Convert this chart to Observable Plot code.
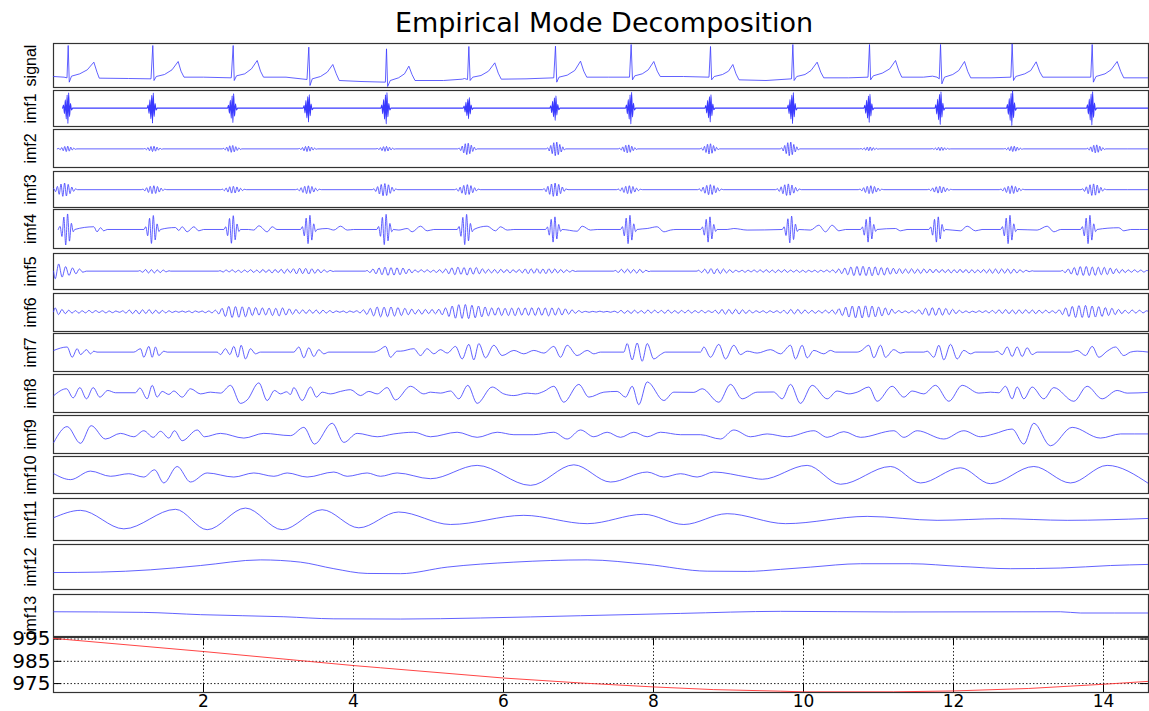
<!DOCTYPE html>
<html><head><meta charset="utf-8">
<script src="https://cdn.jsdelivr.net/npm/d3@7"></script>
<script src="https://cdn.jsdelivr.net/npm/@observablehq/plot@0.6"></script>
<style>
body{margin:0;background:#fff;}
#chart{position:relative;width:1149px;height:711px;overflow:hidden;background:#fff;}
#title{position:absolute;left:53px;width:1102px;top:9px;text-align:center;font-family:"DejaVu Sans",sans-serif;font-size:27px;line-height:27px;color:#000;}
</style></head>
<body><div id="chart"><div id="title">Empirical Mode Decomposition</div></div>
<script>
// ---------------- data ----------------
const xDomain = [0, 14.6];
const xTicks = [2, 4, 6, 8, 10, 12, 14];
const residualTicks = [975, 985, 995];
const panelNames = ["signal","imf1","imf2","imf3","imf4","imf5","imf6","imf7","imf8","imf9","imf10","imf11","imf12","imf13"];

const signal = [[0,0.12],[0.14,0.1],[0.18,0.08],[0.196,1.05],[0.21,-0.05],[0.24,0.13],[0.35,0.2],[0.45,0.32],[0.538,0.55],[0.58,0.25],[0.61,0.07],[1.0,0.06],[1.3,0.05],[1.324,1.05],[1.34,0.0],[1.37,0.12],[1.48,0.18],[1.58,0.32],[1.662,0.57],[1.70,0.28],[1.74,0.1],[2.0,0.1],[2.37,0.08],[2.396,1.05],[2.41,0.0],[2.44,0.14],[2.55,0.2],[2.64,0.35],[2.716,0.6],[2.76,0.28],[2.80,0.1],[3.1,0.1],[3.38,0.03],[3.404,1.0],[3.42,-0.15],[3.45,0.05],[3.56,0.12],[3.65,0.25],[3.724,0.48],[3.77,0.2],[3.81,0.0],[4.1,-0.03],[4.425,-0.05],[4.44,0.95],[4.455,-0.18],[4.49,0.0],[4.6,0.08],[4.68,0.2],[4.738,0.43],[4.78,0.18],[4.82,0.0],[5.2,0.0],[5.45,0.04],[5.48,0.06],[5.52,0.03],[5.538,1.02],[5.555,0.0],[5.59,0.1],[5.7,0.15],[5.8,0.28],[5.884,0.53],[5.93,0.22],[5.97,0.04],[6.3,0.05],[6.67,0.08],[6.693,1.03],[6.71,-0.05],[6.74,0.1],[6.85,0.16],[6.95,0.3],[7.027,0.58],[7.07,0.28],[7.11,0.1],[7.4,0.1],[7.68,0.1],[7.702,1.08],[7.72,0.02],[7.75,0.14],[7.85,0.2],[7.93,0.32],[8.004,0.57],[8.05,0.28],[8.09,0.12],[8.4,0.12],[8.74,0.1],[8.76,1.02],[8.775,0.02],[8.81,0.12],[8.92,0.18],[9.0,0.28],[9.058,0.48],[9.10,0.2],[9.14,0.02],[9.5,0.0],[9.84,0.05],[9.858,1.08],[9.875,0.0],[9.91,0.12],[10.02,0.18],[10.1,0.3],[10.182,0.55],[10.23,0.25],[10.27,0.08],[10.6,0.08],[10.86,0.1],[10.88,1.08],[10.895,0.02],[10.93,0.14],[11.05,0.22],[11.15,0.35],[11.227,0.6],[11.27,0.3],[11.31,0.1],[11.6,0.1],[11.72,0.13],[11.78,0.1],[11.81,0.05],[11.827,1.08],[11.845,-0.1],[11.88,0.1],[11.99,0.18],[12.07,0.3],[12.147,0.57],[12.19,0.27],[12.23,0.08],[12.5,0.08],[12.765,0.1],[12.782,1.1],[12.8,0.0],[12.83,0.12],[12.95,0.2],[13.03,0.3],[13.102,0.56],[13.15,0.26],[13.19,0.1],[13.5,0.1],[13.83,0.1],[13.849,1.08],[13.865,-0.05],[13.9,0.12],[14.02,0.2],[14.1,0.32],[14.182,0.57],[14.23,0.27],[14.27,0.08],[14.6,0.08]];

// bursty modes: burst times, burst amplitudes, burst shape (read from one burst)
const imf1Centers = [0.196,1.324,2.396,3.404,4.44,5.538,6.693,7.702,8.76,9.858,10.88,11.827,12.782,13.849];
const imf1Amps = [0.92,0.9,0.87,0.82,0.94,0.63,0.74,0.95,0.82,0.93,0.85,0.98,1.05,1.0];
const imf1Shape = [[-0.075,0],[-0.062,0.2],[-0.05,-0.35],[-0.038,0.55],[-0.026,-0.7],[-0.014,0.85],[-0.004,-1],[0.006,1],[0.018,-0.55],[0.03,0.3],[0.044,-0.12],[0.06,0]];

const imf2Centers = [0.18,1.33,2.38,3.39,4.43,5.52,6.7,7.66,8.75,9.82,10.88,11.83,12.8,13.9];
const imf2Amps = [0.14,0.14,0.18,0.14,0.13,0.3,0.36,0.21,0.27,0.36,0.1,0.09,0.14,0.21];
const imf2Shape = [[-0.13,0],[-0.11,0.15],[-0.09,-0.3],[-0.07,0.5],[-0.05,-0.7],[-0.03,0.9],[-0.01,-1],[0.01,1],[0.03,-0.85],[0.05,0.65],[0.07,-0.45],[0.09,0.3],[0.11,-0.15],[0.13,0]];

const imf3Centers = [0.15,1.34,2.4,3.4,4.42,5.52,6.69,7.68,8.76,9.8,10.9,11.82,12.78,13.87];
const imf3Amps = [0.37,0.22,0.19,0.22,0.34,0.28,0.37,0.22,0.28,0.32,0.22,0.19,0.22,0.32];
const imf3Shape = [[-0.17,0],[-0.146,0.15],[-0.122,-0.3],[-0.098,0.5],[-0.074,-0.7],[-0.05,0.85],[-0.026,-1],[-0.002,1],[0.022,-0.95],[0.046,0.8],[0.07,-0.6],[0.094,0.4],[0.118,-0.25],[0.142,0.12],[0.17,0]];

const imf4Centers = [0.173,1.316,2.382,3.404,4.42,5.493,6.671,7.671,8.738,9.827,10.871,11.782,12.738,13.804];
const imf4Amps = [0.8,0.72,0.71,0.73,0.78,0.78,0.65,0.73,0.65,0.69,0.65,0.65,0.73,0.73];
const imf4Shape = [[-0.11,0],[-0.085,0.2],[-0.06,-0.45],[-0.035,0.8],[-0.01,-1],[0.015,1],[0.04,-0.75],[0.065,0.4],[0.09,-0.15],[0.11,0]];
const imf4Tails = [[0.538,0.14],[0.58,-0.12],[0.627,0.09],[0.67,-0.07],[0.716,0],[1.627,0.1],[1.67,-0.05],[1.716,0.14],[1.782,-0.12],[1.871,0.14],[1.938,-0.07],[2.0,0],[2.6,0],[2.671,-0.03],[2.738,0.19],[2.849,-0.12],[2.916,0.14],[2.98,0],[3.649,0.05],[3.738,-0.03],[3.827,0.17],[3.916,-0.03],[4.0,0],[4.604,-0.03],[4.716,0.05],[4.782,-0.12],[4.893,0.17],[4.982,-0.07],[5.07,0],[5.782,0.17],[5.893,-0.07],[5.96,0.14],[6.049,-0.03],[6.138,0],[6.982,-0.09],[7.049,0.17],[7.16,-0.03],[7.249,0],[7.916,0.05],[8.049,0.14],[8.138,-0.12],[8.227,-0.03],[8.3,0],[8.982,0],[9.071,0.05],[9.249,-0.03],[10.093,-0.03],[10.204,0.22],[10.293,-0.12],[10.382,0.22],[10.471,-0.07],[10.56,0],[11.227,0.05],[11.293,-0.07],[11.38,0],[12.093,-0.07],[12.182,0.17],[12.293,-0.07],[12.38,0],[13.115,-0.03],[13.249,0.17],[13.338,-0.12],[13.43,0],[14.204,0.09],[14.271,-0.07],[14.36,0]];

// oscillating modes: [start, end, successive extrema values read along the segment]
const imf5Segments = [
 [0.0,0.46,[-0.42,0.4,-0.33,0.25,-0.24,0.18,-0.15,0.12,-0.06,0]],
 [1.13,1.56,[0.03,-0.06,0.09,-0.1,0.08,-0.1,0.07,-0.08,0.06,-0.04,0.02]],
 [2.2,3.75,[0.03,-0.05,0.06,-0.04,0.07,-0.06,0.05,-0.07,0.06,-0.05,0.08,-0.07,0.06,-0.08,0.09,-0.07,0.08,-0.1,0.09,-0.08,0.1,-0.12,0.11,-0.09,0.13,-0.15,0.16,-0.14,0.15,-0.16,0.13,-0.12,0.1,-0.09,0.07,-0.05,0.04,-0.02]],
 [4.16,4.8,[0.04,-0.08,0.12,-0.15,0.18,-0.2,0.22,-0.24,0.2,-0.22,0.19,-0.2,0.17,-0.15,0.12,-0.1]],
 [4.8,5.25,[0.07,-0.06,0.08,-0.05,0.07,-0.06,0.05,-0.07,0.08,-0.09,0.12]],
 [5.25,5.82,[-0.15,0.18,-0.2,0.22,-0.18,0.2,-0.22,0.19,-0.17,0.2,-0.15,0.13,-0.11,0.1]],
 [5.82,6.23,[-0.1,0.09,-0.11,0.1,-0.08,0.09,-0.1,0.08,-0.07,0.09]],
 [6.23,6.98,[-0.1,0.12,-0.14,0.13,-0.12,0.14,-0.13,0.12,-0.14,0.13,-0.11,0.12,-0.1,0.09,-0.08,0.07,-0.05,0.04,-0.02]],
 [7.47,7.96,[0.04,-0.07,0.1,-0.09,0.11,-0.1,0.09,-0.11,0.1,-0.08,0.05,-0.03]],
 [8.58,9.16,[0.05,-0.08,0.11,-0.13,0.14,-0.15,0.13,-0.14,0.12,-0.1,0.08,-0.07,0.05,-0.04]],
 [9.16,10.09,[0.05,-0.06,0.05,-0.04,0.06,-0.05,0.07,-0.06,0.08,-0.07,0.06,-0.08,0.07,-0.06,0.08,-0.07,0.06,-0.05,0.06,-0.07,0.05,-0.06,0.05]],
 [10.09,10.49,[-0.04,0.05,-0.06,0.05,-0.04,0.06,-0.05,0.07,-0.09,0.12]],
 [10.49,11.38,[-0.14,0.17,-0.2,0.23,-0.25,0.26,-0.24,0.27,-0.25,0.23,-0.26,0.24,-0.22,0.2,-0.22,0.19,-0.17,0.16,-0.15,0.14,-0.13,0.12]],
 [11.38,11.91,[-0.12,0.13,-0.12,0.11,-0.13,0.12,-0.1,0.11,-0.09,0.1,-0.08,0.09,-0.08]],
 [11.91,12.54,[0.09,-0.1,0.08,-0.09,0.1,-0.08,0.09,-0.1,0.08,-0.09,0.07,-0.08,0.09,-0.1,0.11,-0.12]],
 [12.54,13.07,[0.12,-0.13,0.12,-0.11,0.12,-0.13,0.11,-0.1,0.08,-0.06,0.05,-0.03,0.02]],
 [13.43,14.31,[0.04,-0.08,0.12,-0.16,0.2,-0.23,0.25,-0.24,0.26,-0.25,0.23,-0.24,0.22,-0.2,0.21,-0.19,0.17,-0.15,0.13,-0.11,0.09,-0.08]],
 [14.31,14.6,[0.07,-0.06,0.07,-0.05,0.06,-0.05,0.04]]
];
const imf6Segments = [
 [0.0,0.9,[0.2,-0.15,0.12,-0.1,0.08,-0.07,0.06,-0.07,0.05,-0.06,0.07,-0.05,0.06,-0.04,0.05,-0.06,0.04,-0.05,0.04,-0.03]],
 [0.9,1.65,[0.05,-0.07,0.09,-0.1,0.08,-0.11,0.1,-0.09,0.11,-0.1,0.08,-0.09,0.07,-0.06,0.05,-0.04,0.03]],
 [1.65,2.18,[-0.03,0.04,-0.03,0.04,-0.05,0.04,-0.03,0.04,-0.05,0.04,-0.06,0.08]],
 [2.18,3.3,[-0.12,0.18,-0.25,0.28,-0.3,0.27,-0.29,0.26,-0.27,0.24,-0.2,0.22,-0.18,0.2,-0.17,0.19,-0.2,0.18,-0.22,0.2,-0.17,0.15,-0.13,0.12,-0.1]],
 [3.3,3.75,[0.1,-0.09,0.1,-0.08,0.09,-0.1,0.08,-0.07,0.06,-0.05]],
 [3.75,4.2,[0.04,-0.03,0.04,-0.05,0.04,-0.03,0.05,-0.06,0.1,-0.14]],
 [4.2,4.8,[0.18,-0.22,0.25,-0.27,0.24,-0.26,0.25,-0.23,0.22,-0.2,0.18,-0.16,0.14]],
 [4.8,5.25,[-0.12,0.11,-0.13,0.12,-0.1,0.12,-0.11,0.13,-0.16,0.2]],
 [5.25,5.82,[-0.25,0.3,-0.34,0.37,-0.35,0.38,-0.36,0.34,-0.32,0.3,-0.27,0.25,-0.22]],
 [5.82,6.4,[0.2,-0.19,0.21,-0.2,0.18,-0.2,0.19,-0.21,0.2,-0.18,0.2,-0.19,0.21]],
 [6.4,7.07,[-0.2,0.21,-0.19,0.2,-0.22,0.2,-0.18,0.19,-0.17,0.15,-0.13,0.1,-0.08,0.06,-0.04]],
 [7.07,7.5,[0.02,-0.03,0.02,-0.02,0.03,-0.02,0.02,-0.03,0.03]],
 [7.5,8.8,[-0.05,0.07,-0.08,0.06,-0.09,0.08,-0.07,0.06,-0.08,0.09,-0.07,0.08,-0.06,0.07,-0.08,0.09,-0.07,0.06,-0.08,0.07,-0.06,0.08,-0.07,0.06,-0.05,0.07,-0.06,0.05,-0.04]],
 [8.8,9.3,[0.08,-0.1,0.12,-0.13,0.12,-0.11,0.13,-0.12,0.1,-0.09,0.08]],
 [9.3,9.76,[-0.06,0.05,-0.04,0.05,-0.06,0.05,-0.04,0.05,-0.06,0.07]],
 [9.76,10.09,[-0.1,0.12,-0.11,0.12,-0.1,0.09,-0.08]],
 [10.09,10.54,[0.07,-0.08,0.06,-0.07,0.08,-0.07,0.09,-0.12,0.16,-0.2]],
 [10.54,11.2,[0.24,-0.28,0.3,-0.32,0.3,-0.33,0.31,-0.29,0.3,-0.27,0.25,-0.22,0.2,-0.17,0.14]],
 [11.2,11.56,[-0.08,0.06,-0.05,0.04,-0.06,0.05,-0.07,0.1]],
 [11.56,12.1,[-0.14,0.18,-0.2,0.21,-0.19,0.2,-0.18,0.17,-0.15,0.13,-0.1,0.08]],
 [12.1,12.54,[-0.05,0.04,-0.05,0.03,-0.04,0.05,-0.04,0.05,-0.06,0.07]],
 [12.54,13.43,[-0.08,0.1,-0.09,0.11,-0.1,0.09,-0.11,0.1,-0.09,0.1,-0.08,0.09,-0.1,0.08,-0.07,0.08,-0.06,0.05,-0.07,0.1]],
 [13.43,14.31,[-0.15,0.2,-0.25,0.28,-0.3,0.32,-0.3,0.33,-0.31,0.3,-0.28,0.27,-0.25,0.22,-0.2,0.18,-0.15,0.12,-0.1,0.08]],
 [14.31,14.6,[-0.08,0.09,-0.07,0.08,-0.06,0.05]]
];

const imf7 = [[0.004,0.09],[0.182,0.27],[0.249,-0.27],[0.316,0.18],[0.36,-0.13],[0.44,0.13],[0.493,-0.09],[0.538,0.05],[0.58,0],[1.071,0],[1.16,0.18],[1.204,-0.27],[1.271,0.3],[1.316,-0.27],[1.36,0.27],[1.404,-0.18],[1.471,0.05],[1.516,0],[2.182,0],[2.227,-0.13],[2.293,0.18],[2.351,-0.13],[2.404,0.3],[2.458,-0.27],[2.502,0.36],[2.56,-0.36],[2.627,0.18],[2.693,-0.09],[2.76,0],[3.204,0],[3.271,0.27],[3.338,-0.3],[3.404,0.23],[3.471,-0.23],[3.538,0.13],[3.604,-0.09],[3.671,0],[4.271,0],[4.338,0.09],[4.427,0.3],[4.493,-0.27],[4.582,0.05],[4.627,0.05],[4.804,0.18],[4.893,-0.18],[4.982,0.18],[5.071,-0.09],[5.16,0.13],[5.249,-0.05],[5.36,0.3],[5.449,-0.36],[5.538,0.41],[5.604,-0.41],[5.671,0.45],[5.76,-0.3],[5.871,0.36],[5.982,-0.18],[6.138,0.09],[6.271,-0.09],[6.404,0.09],[6.538,-0.05],[6.671,0.3],[6.76,-0.27],[6.849,0.36],[6.982,-0.18],[7.116,0.09],[7.204,-0.09],[7.293,0],[7.604,0],[7.649,0.45],[7.716,-0.41],[7.782,0.48],[7.849,-0.48],[7.916,0.45],[8.004,-0.36],[8.093,-0.13],[8.16,0],[8.627,0],[8.671,0.27],[8.76,-0.27],[8.871,0.41],[8.96,-0.36],[9.071,0.36],[9.16,-0.13],[9.249,0.05],[9.382,-0.05],[9.56,0.13],[9.693,-0.09],[9.827,0.36],[9.893,-0.36],[9.982,0.36],[10.049,-0.3],[10.138,0.09],[10.271,-0.09],[10.36,0.09],[10.427,0],[10.716,0],[10.76,0.05],[10.871,0.36],[10.938,-0.3],[11.027,0.36],[11.093,-0.27],[11.204,0.13],[11.293,-0.05],[11.36,0],[11.604,0],[11.649,0.05],[11.738,-0.27],[11.804,0.36],[11.871,-0.41],[11.96,0.41],[12.049,-0.36],[12.138,0.09],[12.227,-0.09],[12.293,0],[12.538,0],[12.582,0.05],[12.649,-0.13],[12.716,0.27],[12.782,-0.23],[12.849,0.27],[12.916,-0.23],[12.982,0.23],[13.049,-0.13],[13.116,0],[13.56,0],[13.649,0.09],[13.76,-0.18],[13.849,0.3],[13.938,-0.27],[14.049,0.05],[14.16,0.27],[14.271,-0.18],[14.36,0],[14.449,0.05],[14.6,0]];

const imf8 = [[0.004,-0.13],[0.173,0.23],[0.262,-0.25],[0.351,0.29],[0.44,-0.3],[0.529,0.29],[0.618,-0.21],[0.724,0.14],[0.827,0.02],[1.093,0.02],[1.151,0.27],[1.249,-0.3],[1.316,0.41],[1.382,-0.21],[1.449,0.09],[1.538,-0.07],[1.604,0.11],[1.716,-0.21],[1.827,0.23],[1.96,-0.04],[2.093,0.05],[2.227,0],[2.36,0.41],[2.493,-0.54],[2.582,-0.36],[2.738,0.54],[2.849,-0.39],[2.947,0.14],[3.027,-0.04],[3.107,0.07],[3.16,-0.07],[3.204,0.29],[3.316,-0.39],[3.427,0.32],[3.507,-0.21],[3.582,0.05],[3.693,-0.04],[3.827,0.09],[3.96,0.18],[4.093,-0.13],[4.204,0.09],[4.316,-0.04],[4.449,0.29],[4.56,-0.36],[4.76,0.36],[4.938,-0.04],[5.027,0.05],[5.16,0],[5.293,0.11],[5.404,-0.3],[5.524,0.41],[5.649,-0.54],[5.849,0.32],[6.004,-0.04],[6.138,-0.13],[6.316,0],[6.427,-0.04],[6.538,0.09],[6.671,0.36],[6.804,-0.48],[7.004,0.46],[7.138,-0.21],[7.338,0.05],[7.516,0.09],[7.627,-0.21],[7.716,0.36],[7.804,-0.61],[7.916,0.59],[8.138,-0.39],[8.271,0.05],[8.538,0.04],[8.649,0.23],[8.871,-0.48],[9.027,0.46],[9.182,-0.3],[9.382,0.05],[9.6,0.06],[9.716,-0.3],[9.827,0.46],[9.96,-0.54],[10.116,0.41],[10.316,-0.3],[10.449,0.11],[10.604,-0.04],[10.716,0.05],[10.871,0.32],[10.982,-0.43],[11.182,0.36],[11.338,-0.21],[11.449,0.11],[11.604,-0.04],[11.76,0.41],[11.938,-0.43],[12.116,0.41],[12.338,0],[12.493,0.05],[12.604,0.02],[12.693,0.36],[12.782,-0.3],[12.849,0.32],[12.938,-0.3],[13.049,0.32],[13.204,-0.3],[13.338,0.29],[13.604,-0.43],[13.782,0.36],[13.982,-0.3],[14.182,0.14],[14.316,0],[14.604,0.04]];

const imf9 = [[0.004,-0.41],[0.182,0.43],[0.36,-0.46],[0.502,0.48],[0.693,-0.23],[0.893,0.07],[1.071,-0.11],[1.204,0.21],[1.329,-0.14],[1.427,0.18],[1.538,-0.18],[1.613,0.21],[1.716,-0.32],[1.916,0.25],[2.013,-0.11],[2.227,0.07],[2.538,-0.18],[2.804,0.07],[3.16,-0.05],[3.338,0.39],[3.48,-0.5],[3.716,0.61],[3.871,-0.41],[4.049,0.07],[4.316,-0.11],[4.538,0.04],[4.804,0.13],[5.027,-0.11],[5.382,0.13],[5.649,-0.14],[5.916,0.13],[6.138,0],[6.404,0],[6.671,0.13],[6.849,-0.23],[7.027,0.25],[7.204,-0.11],[7.382,0.13],[7.56,-0.14],[7.738,0.13],[7.916,-0.11],[8.093,0.13],[8.36,0],[8.627,0],[8.893,-0.23],[9.071,0.25],[9.293,-0.11],[9.516,0.04],[9.782,-0.11],[10.138,0.21],[10.316,-0.14],[10.538,0.16],[10.76,-0.14],[11.204,0.21],[11.338,-0.14],[11.516,0.21],[11.871,-0.23],[12.138,0.21],[12.36,-0.11],[12.538,0.04],[12.782,0.3],[12.938,-0.5],[13.071,0.61],[13.293,-0.59],[13.582,0.39],[13.96,-0.18],[14.227,0.04],[14.604,0.04]];

const imf10 = [[0.004,0],[0.227,-0.32],[0.493,0.14],[0.76,-0.14],[1.004,0],[1.204,-0.18],[1.347,0.21],[1.471,-0.5],[1.649,0.39],[1.827,-0.45],[2.049,0.04],[2.404,-0.18],[2.671,0.04],[2.938,-0.14],[3.116,0.04],[3.382,-0.18],[3.738,0.09],[3.916,-0.14],[4.182,0.04],[4.36,-0.14],[4.582,0.04],[5.027,-0.27],[5.649,0.45],[6.36,-0.63],[6.938,0.48],[7.427,-0.45],[7.916,0.09],[8.138,-0.18],[8.36,0],[8.582,-0.18],[8.804,0.09],[9.249,-0.18],[9.45,-0.3],[10.049,0.45],[10.493,-0.57],[11.16,0.39],[11.56,-0.5],[12.093,0.32],[12.493,-0.54],[13.071,0.39],[13.56,-0.5],[14.049,0.45],[14.604,-0.54]];

const imf11 = [[0.004,0.1],[0.36,0.45],[0.938,-0.44],[1.627,0.5],[2.049,-0.48],[2.56,0.56],[3.049,-0.48],[3.582,0.48],[4.071,-0.39],[4.6,0.37],[5.293,-0.23],[6.271,0.21],[7.116,-0.19],[7.871,0.26],[8.404,-0.23],[8.982,0.29],[9.76,-0.19],[10.849,0.16],[11.782,-0.03],[12.627,0.05],[13.516,-0.03],[14.604,0.06]];

const imf12 = [[0.004,-0.24],[0.627,-0.22],[1.293,-0.12],[1.96,0.07],[2.76,0.32],[3.293,0.22],[3.738,-0.07],[4.182,-0.28],[4.627,-0.29],[5.249,0],[6.138,0.22],[7.116,0.32],[7.916,0.12],[8.716,-0.18],[9.249,-0.19],[9.693,-0.1],[10.093,0],[10.76,0.15],[11.427,0.15],[12.093,0.03],[12.76,-0.07],[13.427,-0.04],[14.093,0.07],[14.604,0.12]];

const imf13 = [[0.004,0.19],[1.204,0.16],[1.96,0.05],[3.071,-0.05],[3.738,-0.15],[4.627,-0.16],[5.693,-0.11],[7.027,0],[8.36,0.11],[9.693,0.21],[11.204,0.18],[13.427,0.19],[13.693,0.13],[14.604,0.13]];

const residual = [[0,995.3],[2,989.4],[4,983.1],[4.36,982.1],[6,977.5],[7.02,975.3],[8,973.5],[8.8,972.3],[9.69,971.6],[10,971.3],[11.2,971.3],[12,971.7],[13,972.8],[14,974.7],[14.6,976.0]];

// y-range of each panel, in the units above
const yDomains = [[-0.21,1.11],[-1.1,1.06],[-0.98,1.02],[-0.99,1.01],[-0.98,1.03],[-1.02,0.98],[-1.04,0.96],[-1.02,0.98],[-1.02,0.98],[-1.0,1.02],[-1.07,0.93],[-1.0,1.02],[-0.99,1.0],[-1.0,1.02]];
const residualDomain = [971, 995.7];

// ---------------- build series tables ----------------
function fromBursts(centers, amps, shape, extra = []) {
  const pts = [];
  centers.forEach((c, i) => shape.forEach(([dt, s]) => pts.push([c + dt, s * amps[i]])));
  extra.forEach(p => pts.push(p));
  pts.sort((a, b) => a[0] - b[0]);
  if (pts[pts.length - 1][0] < xDomain[1]) pts.push([xDomain[1], 0]);
  return pts;
}
function fromSegments(segs) {
  const pts = [];
  for (const [t0, t1, vals] of segs) {
    const dt = (t1 - t0) / vals.length;
    if (!pts.length || pts[pts.length - 1][0] < t0 - 1e-9) pts.push([t0, 0]);
    vals.forEach((v, i) => pts.push([t0 + (i + 0.5) * dt, v]));
    pts.push([t1, 0]);
  }
  return pts;
}
const series = [
  signal,
  fromBursts(imf1Centers, imf1Amps, imf1Shape),
  fromBursts(imf2Centers, imf2Amps, imf2Shape),
  fromBursts(imf3Centers, imf3Amps, imf3Shape),
  fromBursts(imf4Centers, imf4Amps, imf4Shape, imf4Tails),
  fromSegments(imf5Segments),
  fromSegments(imf6Segments),
  imf7, imf8, imf9, imf10, imf11, imf12, imf13
];

// ---------------- layout ----------------
const W = 1149, ML = 53, MR = 1;
const panelBox = [[43,87],[90,126],[129,167],[171,207],[209,248],[253,289],[293,331],[333,371],[374,412],[415,453],[456,493],[498,540],[544,589],[594,636]];
const residualBox = [637, 692];
const blue = "#3a3aff";
const chart = document.getElementById("chart");

panelNames.forEach((name, i) => {
  const [top, bottom] = panelBox[i];
  const svg = Plot.plot({
    width: W, height: bottom - top + 2,
    marginLeft: ML, marginRight: MR, marginTop: 1, marginBottom: 1,
    x: {domain: xDomain, axis: null},
    y: {domain: yDomains[i], axis: null},
    style: {overflow: "visible", background: "transparent"},
    marks: [
      Plot.frame({stroke: "#333", strokeWidth: 1.2}),
      Plot.line(series[i], {x: d => d[0], y: d => d[1], stroke: blue, strokeWidth: i === 1 ? 1.1 : 0.8,
        curve: i === 0 ? "linear" : "monotone-x", clip: true}),
      Plot.text([name], {text: d => d, frameAnchor: "left", dx: -23, rotate: -90,
        textAnchor: "middle", lineAnchor: "middle",
        fontSize: 16, fontFamily: "Liberation Sans, Arial, sans-serif", fill: "black"})
    ]
  });
  svg.style.position = "absolute";
  svg.style.left = "0px";
  svg.style.top = (top - 1) + "px";
  chart.appendChild(svg);
});

// residual panel with axes and grid
{
  const [top, bottom] = residualBox;
  const H = 80;
  const svg = Plot.plot({
    width: W, height: H,
    marginLeft: ML, marginRight: MR, marginTop: 1, marginBottom: H - 1 - (bottom - top),
    x: {domain: xDomain},
    y: {domain: residualDomain},
    style: {overflow: "visible", background: "transparent", fontFamily: "DejaVu Sans, sans-serif", fontSize: "20px"},
    marks: [
      Plot.gridX(xTicks, {stroke: "#000", strokeOpacity: 0.85, strokeDasharray: "1.5,2"}),
      Plot.gridY(residualTicks, {stroke: "#000", strokeOpacity: 0.85, strokeDasharray: "1.5,2"}),
      Plot.tickX(xTicks, {x: d => d, insetTop: (bottom - top) - 8, stroke: "#000"}),
      Plot.tickX(xTicks, {x: d => d, insetBottom: (bottom - top) - 8, stroke: "#000"}),
      Plot.tickY(residualTicks, {y: d => d, insetRight: W - ML - MR - 8, stroke: "#000"}),
      Plot.tickY(residualTicks, {y: d => d, insetLeft: W - ML - MR - 8, stroke: "#000"}),
      Plot.frame({stroke: "#333", strokeWidth: 1.2}),
      Plot.line(residual, {x: d => d[0], y: d => d[1], stroke: "#ff3030", strokeWidth: 0.9, clip: true}),
      Plot.axisX(xTicks, {tickSize: 0, tickPadding: 2, fontSize: 17, fill: "#000", label: null}),
      Plot.axisY(residualTicks, {tickSize: 0, tickPadding: 3, fontSize: 20, fill: "#000", label: null})
    ]
  });
  svg.style.position = "absolute";
  svg.style.left = "0px";
  svg.style.top = (top - 1) + "px";
  chart.appendChild(svg);
}
</script></body></html>
